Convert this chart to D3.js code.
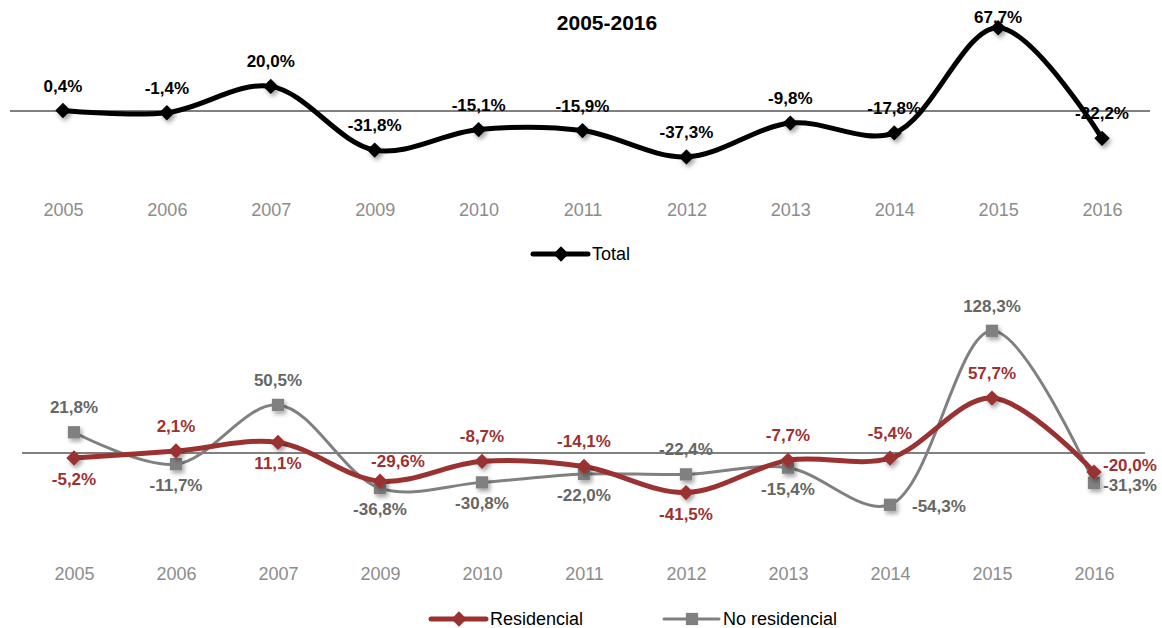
<!DOCTYPE html>
<html>
<head>
<meta charset="utf-8">
<script src="https://cdn.jsdelivr.net/npm/d3@7"></script>
<style>
  body { margin: 0; background: #fff; }
  svg { display: block; font-family: "Liberation Sans", Arial, sans-serif; }
</style>
</head>
<body>
<svg id="chart" width="1162" height="628"></svg>
<script>
// data
var years = ["2005", "2006", "2007", "2009", "2010", "2011", "2012", "2013", "2014", "2015", "2016"];
var total = [0.4, -1.4, 20.0, -31.8, -15.1, -15.9, -37.3, -9.8, -17.8, 67.7, -22.2];
var residencial = [-5.2, 2.1, 11.1, -29.6, -8.7, -14.1, -41.5, -7.7, -5.4, 57.7, -20.0];
var noResidencial = [21.8, -11.7, 50.5, -36.8, -30.8, -22.0, -22.4, -15.4, -54.3, 128.3, -31.3];
// where each data label sits relative to its point
var totalLabelPos = ["above", "above", "above", "above", "above", "above", "above", "above", "above", "top", "above"];
var resLabelPos = ["below", "above", "below", "aboveRight", "above", "above", "below", "above", "above", "above", "upRight"];
var noResLabelPos = ["above", "below", "above", "below", "below", "below", "above", "below", "farRight", "above", "right"];

var RED = "#9b3232", GRAY = "#808080";
var fmt = function(v) { return v.toFixed(1).replace(".", ",") + "%"; };

var svg = d3.select("#chart");

var defs = svg.append("defs");
var f = defs.append("filter").attr("id", "shadow").attr("x", "-50%").attr("y", "-50%").attr("width", "200%").attr("height", "200%");
f.append("feDropShadow").attr("dx", 2).attr("dy", 3).attr("stdDeviation", 2).attr("flood-color", "#000").attr("flood-opacity", 0.35);

svg.append("text")
  .attr("x", 607).attr("y", 30)
  .attr("text-anchor", "middle")
  .attr("font-size", 21).attr("font-weight", "bold")
  .text("2005-2016");

var diamond = d3.symbol().type(d3.symbolDiamond2).size(150);
var square = d3.symbol().type(d3.symbolSquare).size(150);

function offsets(p) {
  if (p == "above") return { dx: 0, dy: -19, anchor: "middle" };
  if (p == "top") return { dx: 0, dy: -5, anchor: "middle" };
  if (p == "below") return { dx: 0, dy: 27, anchor: "middle" };
  if (p == "aboveRight") return { dx: 18, dy: -14, anchor: "middle" };
  if (p == "farRight") return { dx: 22, dy: 7, anchor: "start" };
  if (p == "right") return { dx: 9, dy: 8, anchor: "start" };
  if (p == "upRight") return { dx: 9, dy: -1, anchor: "start" };
}

function drawPanel(o) {
  var x = d3.scalePoint().domain(years).range(o.xr).padding(0.5);
  var y = d3.scaleLinear().domain(o.yd).range(o.yr);
  var g = svg.append("g");

  // zero line
  g.append("line")
    .attr("x1", o.zx[0]).attr("x2", o.zx[1])
    .attr("y1", y(0)).attr("y2", y(0))
    .attr("stroke", GRAY).attr("stroke-width", 2);

  // category labels
  var axis = d3.axisBottom(x).tickSize(0).tickPadding(0);
  var ax = g.append("g").attr("transform", "translate(0," + o.axisY + ")").call(axis);
  ax.select(".domain").remove();
  ax.selectAll("text").attr("font-size", 18).attr("fill", "#8c8c8c").attr("font-family", "Liberation Sans, Arial, sans-serif");

  o.series.forEach(function(s) {
    var line = d3.line()
      .x(function(d, i) { return x(years[i]); })
      .y(function(d) { return y(d); })
      .curve(d3.curveCatmullRom.alpha(0.5));
    g.append("path").datum(s.values)
      .attr("d", line)
      .attr("fill", "none")
      .attr("stroke", s.color)
      .attr("stroke-width", s.width);
  });

  o.series.forEach(function(s) {
    g.selectAll(null).data(s.values).enter().append("path")
      .attr("transform", function(d, i) { return "translate(" + x(years[i]) + "," + y(d) + ")"; })
      .attr("d", s.symbol)
      .attr("fill", s.color)
      .attr("filter", "url(#shadow)");
  });

  o.series.forEach(function(s) {
    g.selectAll(null).data(s.values).enter().append("text")
      .each(function(d, i) {
        var of = offsets(s.labelPos[i]);
        d3.select(this)
          .attr("x", x(years[i]) + of.dx)
          .attr("y", y(d) + of.dy)
          .attr("text-anchor", of.anchor);
      })
      .attr("font-size", 17).attr("font-weight", "bold")
      .attr("fill", s.labelColor)
      .text(fmt);
  });
}

drawPanel({
  xr: [11, 1154], yd: [-50, 75], yr: [172.5, 18.75], zx: [10, 1150], axisY: 203,
  series: [
    { values: total, color: "#000", width: 5, symbol: diamond, labelColor: "#000", labelPos: totalLabelPos }
  ]
});

drawPanel({
  xr: [23, 1145], yd: [-60, 135], yr: [510.2, 324.4], zx: [22, 1145], axisY: 567,
  series: [
    { values: noResidencial, color: GRAY, width: 3, symbol: square, labelColor: "#666", labelPos: noResLabelPos },
    { values: residencial, color: RED, width: 5, symbol: diamond, labelColor: RED, labelPos: resLabelPos }
  ]
});

// legends
function legendItem(cx, cy, color, width, symbol, label) {
  var g = svg.append("g");
  g.append("line").attr("x1", cx - 28).attr("x2", cx + 27).attr("y1", cy).attr("y2", cy)
    .attr("stroke", color).attr("stroke-width", width).attr("stroke-linecap", "round");
  g.append("path").attr("transform", "translate(" + cx + "," + cy + ")").attr("d", symbol).attr("fill", color);
  g.append("text").attr("x", cx + 31).attr("y", cy + 6).attr("font-size", 18).attr("fill", "#000").text(label);
}
legendItem(561, 254, "#000", 5, diamond, "Total");
legendItem(459, 619, RED, 5, diamond, "Residencial");
legendItem(692, 619, GRAY, 3, square, "No residencial");
</script>
</body>
</html>
